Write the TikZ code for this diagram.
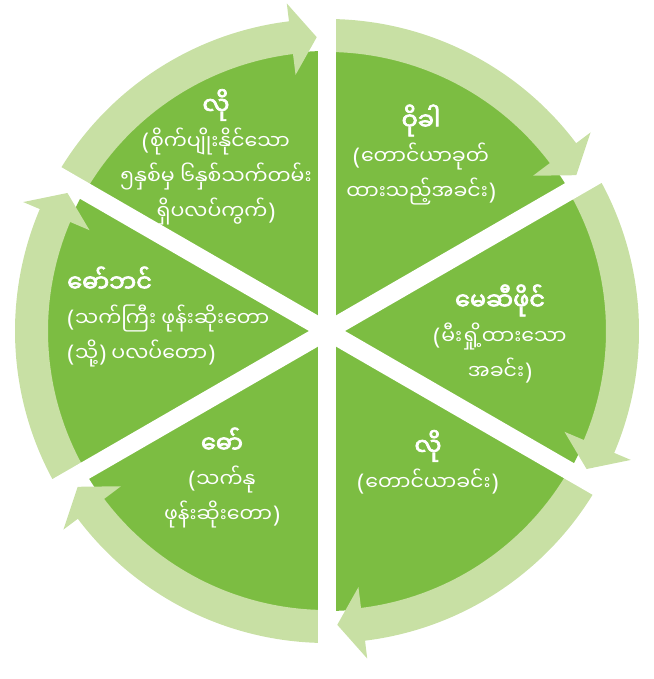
\documentclass[tikz,border=0pt]{standalone}
\usepackage{fontspec}
\usetikzlibrary{calc}
\newfontfamily\mmfont[Script=Myanmar]{Noto Sans Myanmar UI}
\newfontfamily\mmbold[Script=Myanmar,FakeBold=3]{Noto Sans Myanmar UI}
\newfontfamily\parfont{Noto Sans}
\newcommand\heading[1]{{\mmbold\fontsize{24}{35}\selectfont #1}}
\newcommand\lp{{\parfont\fontsize{23}{35}\selectfont(}\kern1pt}
\newcommand\rp{\kern1pt{\parfont\fontsize{23}{35}\selectfont)}}
\definecolor{leafgreen}{RGB}{124,189,66}
\definecolor{ringgreen}{RGB}{200,224,164}

\begin{document}
\begin{tikzpicture}[x=1pt, y=1pt, line width=0.5pt,
  every node/.style={font=\mmfont\fontsize{20.5}{35}\selectfont, text=white, inner sep=0pt},
  sector/.style={align=center}]
  \useasboundingbox (0,0) rectangle (653,679);
  \coordinate (o) at (327,348);
  % disk
  \fill[leafgreen] (o) circle (280);
  % ring arrows, one per sector
  \foreach \a [evaluate=\a as \s using \a+60, evaluate=\a as \b using \a+7,
               evaluate=\a as \t using \a+2] in {90,30,-30,-90,-150,150} {
    \fill[ringgreen] ($(o)+(\s:312)$) arc[start angle=\s, end angle=\b, radius=312]
      -- ($(o)+(\b:330)$) -- ($(o)+(\t:294)$) -- ($(o)+(\b:258)$)
      -- ($(o)+(\b:279)$) arc[start angle=\b, end angle=\s, radius=279] -- cycle;
  }
  % white gaps
  \foreach \a in {90,30,-30,-90,-150,150}
    \draw[white, line width=18pt] (o) -- ($(o)+(\a:350)$);
  % labels
  \node[sector] (plot) at (216,522) {\heading{လို}\\\lp စိုက်ပျိုးနိုင်သော\\၅နှစ်မှ ၆နှစ်သက်တမ်း\\ရှိပလပ်ကွက်\rp};
  \node[sector] (cut) at (421,524) {\heading{ဝိုခါ}\\\lp တောင်ယာခုတ်\\ထားသည့်အခင်း\rp};
  \node[sector] (burn) at (500,345) {\heading{မေဆီဖိုင်}\\\lp မီးရှို့ထားသော\\အခင်း\rp};
  \node[sector] (field) at (428,217) {\heading{လို}\\\lp တောင်ယာခင်း\rp};
  \node[sector] (young) at (222,201) {\heading{ဓော်}\\\lp သက်နု\\ဖုန်းဆိုးတော\rp};
  \node[sector, align=left, anchor=west] (old) at (67,362) {\heading{ဓော်ဘင်}\\\lp သက်ကြီး ဖုန်းဆိုးတော\\\lp သို့\rp{} ပလပ်တော\rp};
\end{tikzpicture}
\end{document}
